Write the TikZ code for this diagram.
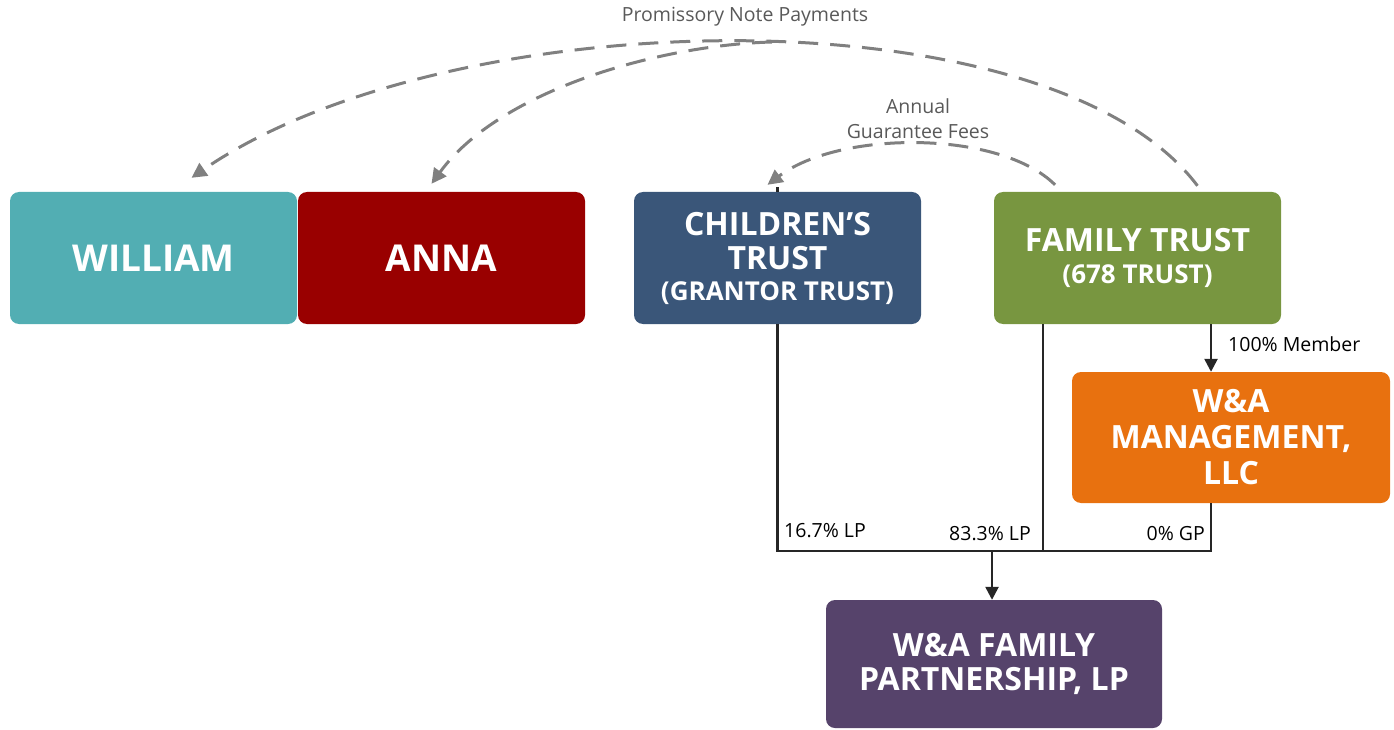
\documentclass[tikz,border=0pt]{standalone}
\usepackage{fontspec}
\setmainfont{Open Sans}
\usetikzlibrary{arrows.meta}
\definecolor{cWill}{HTML}{52AEB3}
\definecolor{cAnna}{HTML}{990000}
\definecolor{cChild}{HTML}{3A5679}
\definecolor{cFam}{HTML}{789640}
\definecolor{cMgmt}{HTML}{E8710F}
\definecolor{cPart}{HTML}{56436B}
\definecolor{cDash}{HTML}{808080}
\definecolor{cLbl}{HTML}{595959}
\definecolor{cLine}{HTML}{262626}
\tikzset{
  box/.style={rectangle, rounded corners=9pt, text=white, align=center, inner sep=0pt},
  dasharrow/.style={draw=cDash, line width=3pt, dash pattern=on 20pt off 12pt, -{Triangle[length=15pt,width=15pt]}},
  solidline/.style={draw=cLine, line width=2.5pt},
  solidarrow/.style={draw=cLine, line width=2.5pt, -{Triangle[length=13pt,width=13pt]}},
  lbl/.style={text=cLbl, font=\fontsize{19.5}{25}\selectfont, align=center, inner sep=0pt},
  pct/.style={text=black, font=\fontsize{19.5}{20}\selectfont, inner sep=0pt}
}
\begin{document}
\begin{tikzpicture}[x=1pt,y=-1pt]
\useasboundingbox (0,0) rectangle (1394,730);
\node[box, fill=cWill, minimum width=287pt, minimum height=132pt, font=\bfseries\fontsize{37}{40}\selectfont] (william) at (153.5,258) {WILLIAM};
\node[box, fill=cAnna, minimum width=287pt, minimum height=132pt, font=\bfseries\fontsize{37}{40}\selectfont] (anna) at (441.5,258) {ANNA};
\node[box, fill=cChild, minimum width=287pt, minimum height=132pt, font=\bfseries\fontsize{32}{34}\selectfont] (ct) at (777.5,258) {CHILDREN’S\\TRUST\\[-3pt]{\fontsize{26}{34}\selectfont (GRANTOR TRUST)}};
\node[box, fill=cFam, minimum width=287pt, minimum height=132pt, font=\bfseries\fontsize{32}{32}\selectfont] (ft) at (1137.5,258) {FAMILY TRUST\\{\fontsize{26}{32}\selectfont (678 TRUST)}};
\node[box, fill=cMgmt, minimum width=318pt, minimum height=131pt, font=\bfseries\fontsize{32}{36}\selectfont] (mg) at (1231,437.5) {W\&A\\MANAGEMENT,\\LLC};
\node[box, fill=cPart, minimum width=336pt, minimum height=128pt, font=\bfseries\fontsize{32}{34}\selectfont] (wp) at (994,664) {W\&A FAMILY\\PARTNERSHIP, LP};

\coordinate (jL) at (777.5,551);
\coordinate (jF) at (1043,551);
\coordinate (jM) at (992,551);
\coordinate (jR) at (1211,551);
\coordinate (split) at (772,42);

\draw[solidline] (ct.south) -- (jL) -- (jR) -- (jR |- mg.south);
\draw[solidline] (jF |- ft.south) -- (jF);
\draw[solidline] (ct.north) -- ++(0,-5);
\draw[solidarrow] (jR |- ft.south) -- (jR |- mg.north);
\draw[solidarrow] (jM) -- (jM |- wp.north);

\node[pct, anchor=west] (l100) at (1228,344) {100\% Member};
\node[pct, anchor=base west] (l167) at (784,537) {16.7\% LP};
\node[pct, anchor=base east] (l833) at (1031,540) {83.3\% LP};
\node[pct, anchor=base east] (l0) at (1205,540) {0\% GP};

\draw[dasharrow] ([xshift=60pt,yshift=6pt]ft.north) .. controls (1050,-10) and (450,0) .. ([xshift=38pt,yshift=14pt]william.north);
\draw[dasharrow] (split) .. controls (660,45) and (500,90) .. ([xshift=-10pt,yshift=8pt]anna.north);
\draw[dasharrow] ([xshift=-82.5pt,yshift=7pt]ft.north) .. controls (1000,130) and (840,130) .. ([xshift=-10pt,yshift=7pt]ct.north);

\node[lbl] (promo) at (745,17) {Promissory Note Payments};
\node[lbl] (annual) at (918,119) {Annual\\Guarantee Fees};
\end{tikzpicture}
\end{document}
